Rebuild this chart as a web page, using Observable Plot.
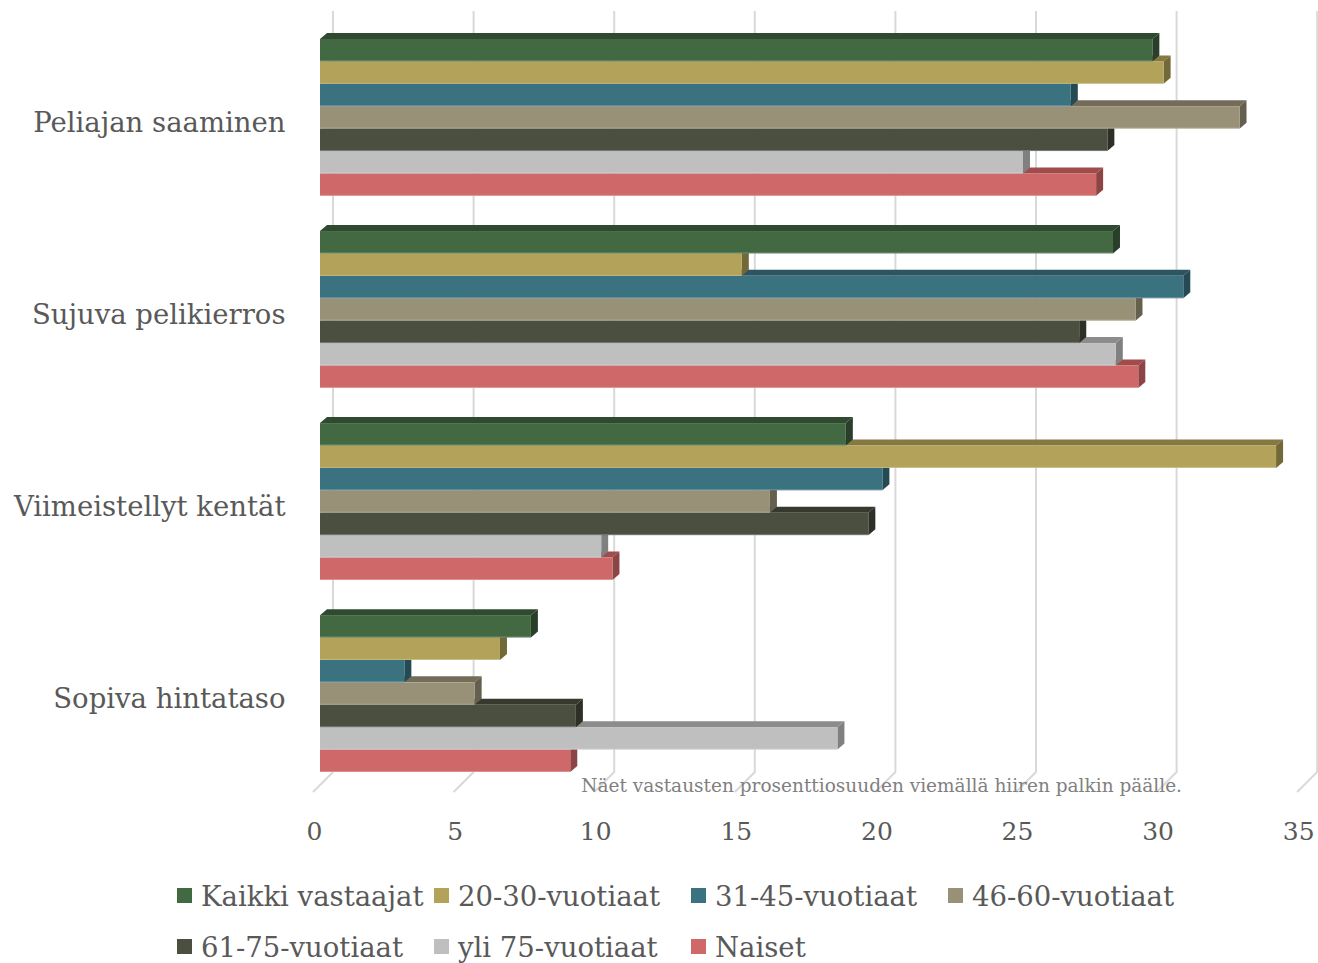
<!DOCTYPE html>
<html><head><meta charset="utf-8">
<script src="https://cdn.jsdelivr.net/npm/d3@7"></script>
<script src="https://cdn.jsdelivr.net/npm/@observablehq/plot@0.6"></script>
<style>
body{margin:0;background:#fff;font-family:"DejaVu Serif",serif;}
#legend{display:grid;grid-template-columns:repeat(4,257px);margin-left:177px;color:#595959;font-size:27.5px;}
.item{height:51px;display:flex;align-items:center;white-space:nowrap;}
.sw{width:15px;height:15px;margin-right:9px;flex:none;}
</style></head><body>
<div id="chart"></div><div id="legend"></div>
<script>
// ---- data ----
const categories = ["Peliajan saaminen", "Sujuva pelikierros", "Viimeistellyt kentät", "Sopiva hintataso"];
const seriesNames = ["Kaikki vastaajat", "20-30-vuotiaat", "31-45-vuotiaat", "46-60-vuotiaat", "61-75-vuotiaat", "yli 75-vuotiaat", "Naiset"];
const kaikkiVastaajat = [29.6, 28.2, 18.7, 7.5];
const v20_30 = [30.0, 15.0, 34.0, 6.4];
const v31_45 = [26.7, 30.7, 20.0, 3.0];
const v46_60 = [32.7, 29.0, 16.0, 5.5];
const v61_75 = [28.0, 27.0, 19.5, 9.1];
const yli75 = [25.0, 28.3, 10.0, 18.4];
const naiset = [27.6, 29.1, 10.4, 8.9];
const xTicks = [0, 5, 10, 15, 20, 25, 30, 35];
const note = "Näet vastausten prosenttiosuuden viemällä hiiren palkin päälle.";

// ---- styles ----
const frontColors = ["#436943", "#b3a25a", "#3b7280", "#989178", "#4b4f40", "#bfbfbf", "#cf6868"];
const topColors   = ["#2f4a2f", "#857840", "#2b5560", "#726c58", "#363a2e", "#8c8c8c", "#a04c4c"];
const sideColors  = ["#2a3f2a", "#736838", "#244a53", "#65604e", "#2d3027", "#808080", "#8c4444"];
const textColor = "#595959";
const FONT = "DejaVu Serif";

// ---- layout ----
const GROUP_STEP = 8.57;     // in bar slots
const Y_MAX = 3 * GROUP_STEP + 7;
const DEPTH_X = 7, DEPTH_Y = 6;    // bar 3D depth (px)
const BACK = 13, FLOOR = 20, GRID_TOP = 28;

const seriesValues = [kaikkiVastaajat, v20_30, v31_45, v46_60, v61_75, yli75, naiset];
const data = [];
categories.forEach((c, gi) => {
  seriesValues.forEach((vals, si) => {
    data.push({category: c, series: seriesNames[si], si, value: vals[gi],
      y1: gi * GROUP_STEP + si, y2: gi * GROUP_STEP + si + 1});
  });
});
const catData = categories.map((c, gi) => ({category: c, y: gi * GROUP_STEP + 3.5}));

function gridRender(index, scales, values, dims) {
  const g = d3.create("svg:g").attr("stroke", "#d9d9d9").attr("stroke-width", 2).attr("fill", "none");
  const yb = dims.height - dims.marginBottom, yt = dims.marginTop - GRID_TOP;
  for (const i of index) {
    const x = values.x[i];
    g.append("path").attr("d", `M${x + BACK},${yt}V${yb}L${x + BACK - FLOOR},${yb + FLOOR}`);
  }
  return g.node();
}

function barsRender(index, scales, values, dims) {
  const g = d3.create("svg:g");
  const order = Array.from(index).sort((a, b) => data[b].si - data[a].si);
  for (const i of order) {
    const si = data[i].si;
    const xa = Math.min(values.x1[i], values.x2[i]), xb = Math.max(values.x1[i], values.x2[i]);
    const ya = Math.min(values.y1[i], values.y2[i]), yb = Math.max(values.y1[i], values.y2[i]);
    g.append("path").attr("fill", topColors[si])
      .attr("d", `M${xa},${ya}L${xa + DEPTH_X},${ya - DEPTH_Y}L${xb + DEPTH_X},${ya - DEPTH_Y}L${xb},${ya}Z`);
    g.append("path").attr("fill", sideColors[si])
      .attr("d", `M${xb},${ya}L${xb + DEPTH_X},${ya - DEPTH_Y}L${xb + DEPTH_X},${yb - DEPTH_Y}L${xb},${yb}Z`);
    g.append("rect").attr("fill", frontColors[si])
      .attr("x", xa).attr("y", ya).attr("width", xb - xa).attr("height", yb - ya);
    g.append("line").attr("stroke", "#ffffff").attr("stroke-opacity", 0.25).attr("stroke-width", 1)
      .attr("x1", xa).attr("x2", xb).attr("y1", yb - 0.5).attr("y2", yb - 0.5);
  }
  return g.node();
}

const chart = Plot.plot({
  width: 1318,
  height: 870,
  marginLeft: 320,
  marginRight: 13.8,
  marginTop: 39,
  marginBottom: 98,
  style: {fontFamily: FONT, background: "#fff"},
  x: {domain: [0, 35], axis: null},
  y: {domain: [0, Y_MAX], reverse: true, axis: null},
  marks: [
    Plot.ruleX(xTicks, {x: d => d, render: gridRender}),
    Plot.rect(data, {x1: () => 0, x2: "value", y1: "y1", y2: "y2", render: barsRender}),
    Plot.text(catData, {x: () => 0, y: "y", text: "category", textAnchor: "end", dx: -35, dy: 5,
      fontSize: 27.5, fill: textColor}),
    Plot.text(xTicks, {x: d => d, frameAnchor: "bottom", text: d => String(d), dx: -6, dy: 67,
      fontSize: 25, fill: textColor}),
    Plot.text([note], {frameAnchor: "bottom", text: d => d, dx: 69, dy: 19, fontSize: 18.5, fill: "#808080"})
  ]
});
document.getElementById("chart").appendChild(chart);

const legend = document.getElementById("legend");
seriesNames.forEach((s, i) => {
  const it = document.createElement("div");
  it.className = "item";
  const sw = document.createElement("span");
  sw.className = "sw";
  sw.style.background = frontColors[i];
  it.appendChild(sw);
  it.appendChild(document.createTextNode(s));
  legend.appendChild(it);
});
</script>
</body></html>
